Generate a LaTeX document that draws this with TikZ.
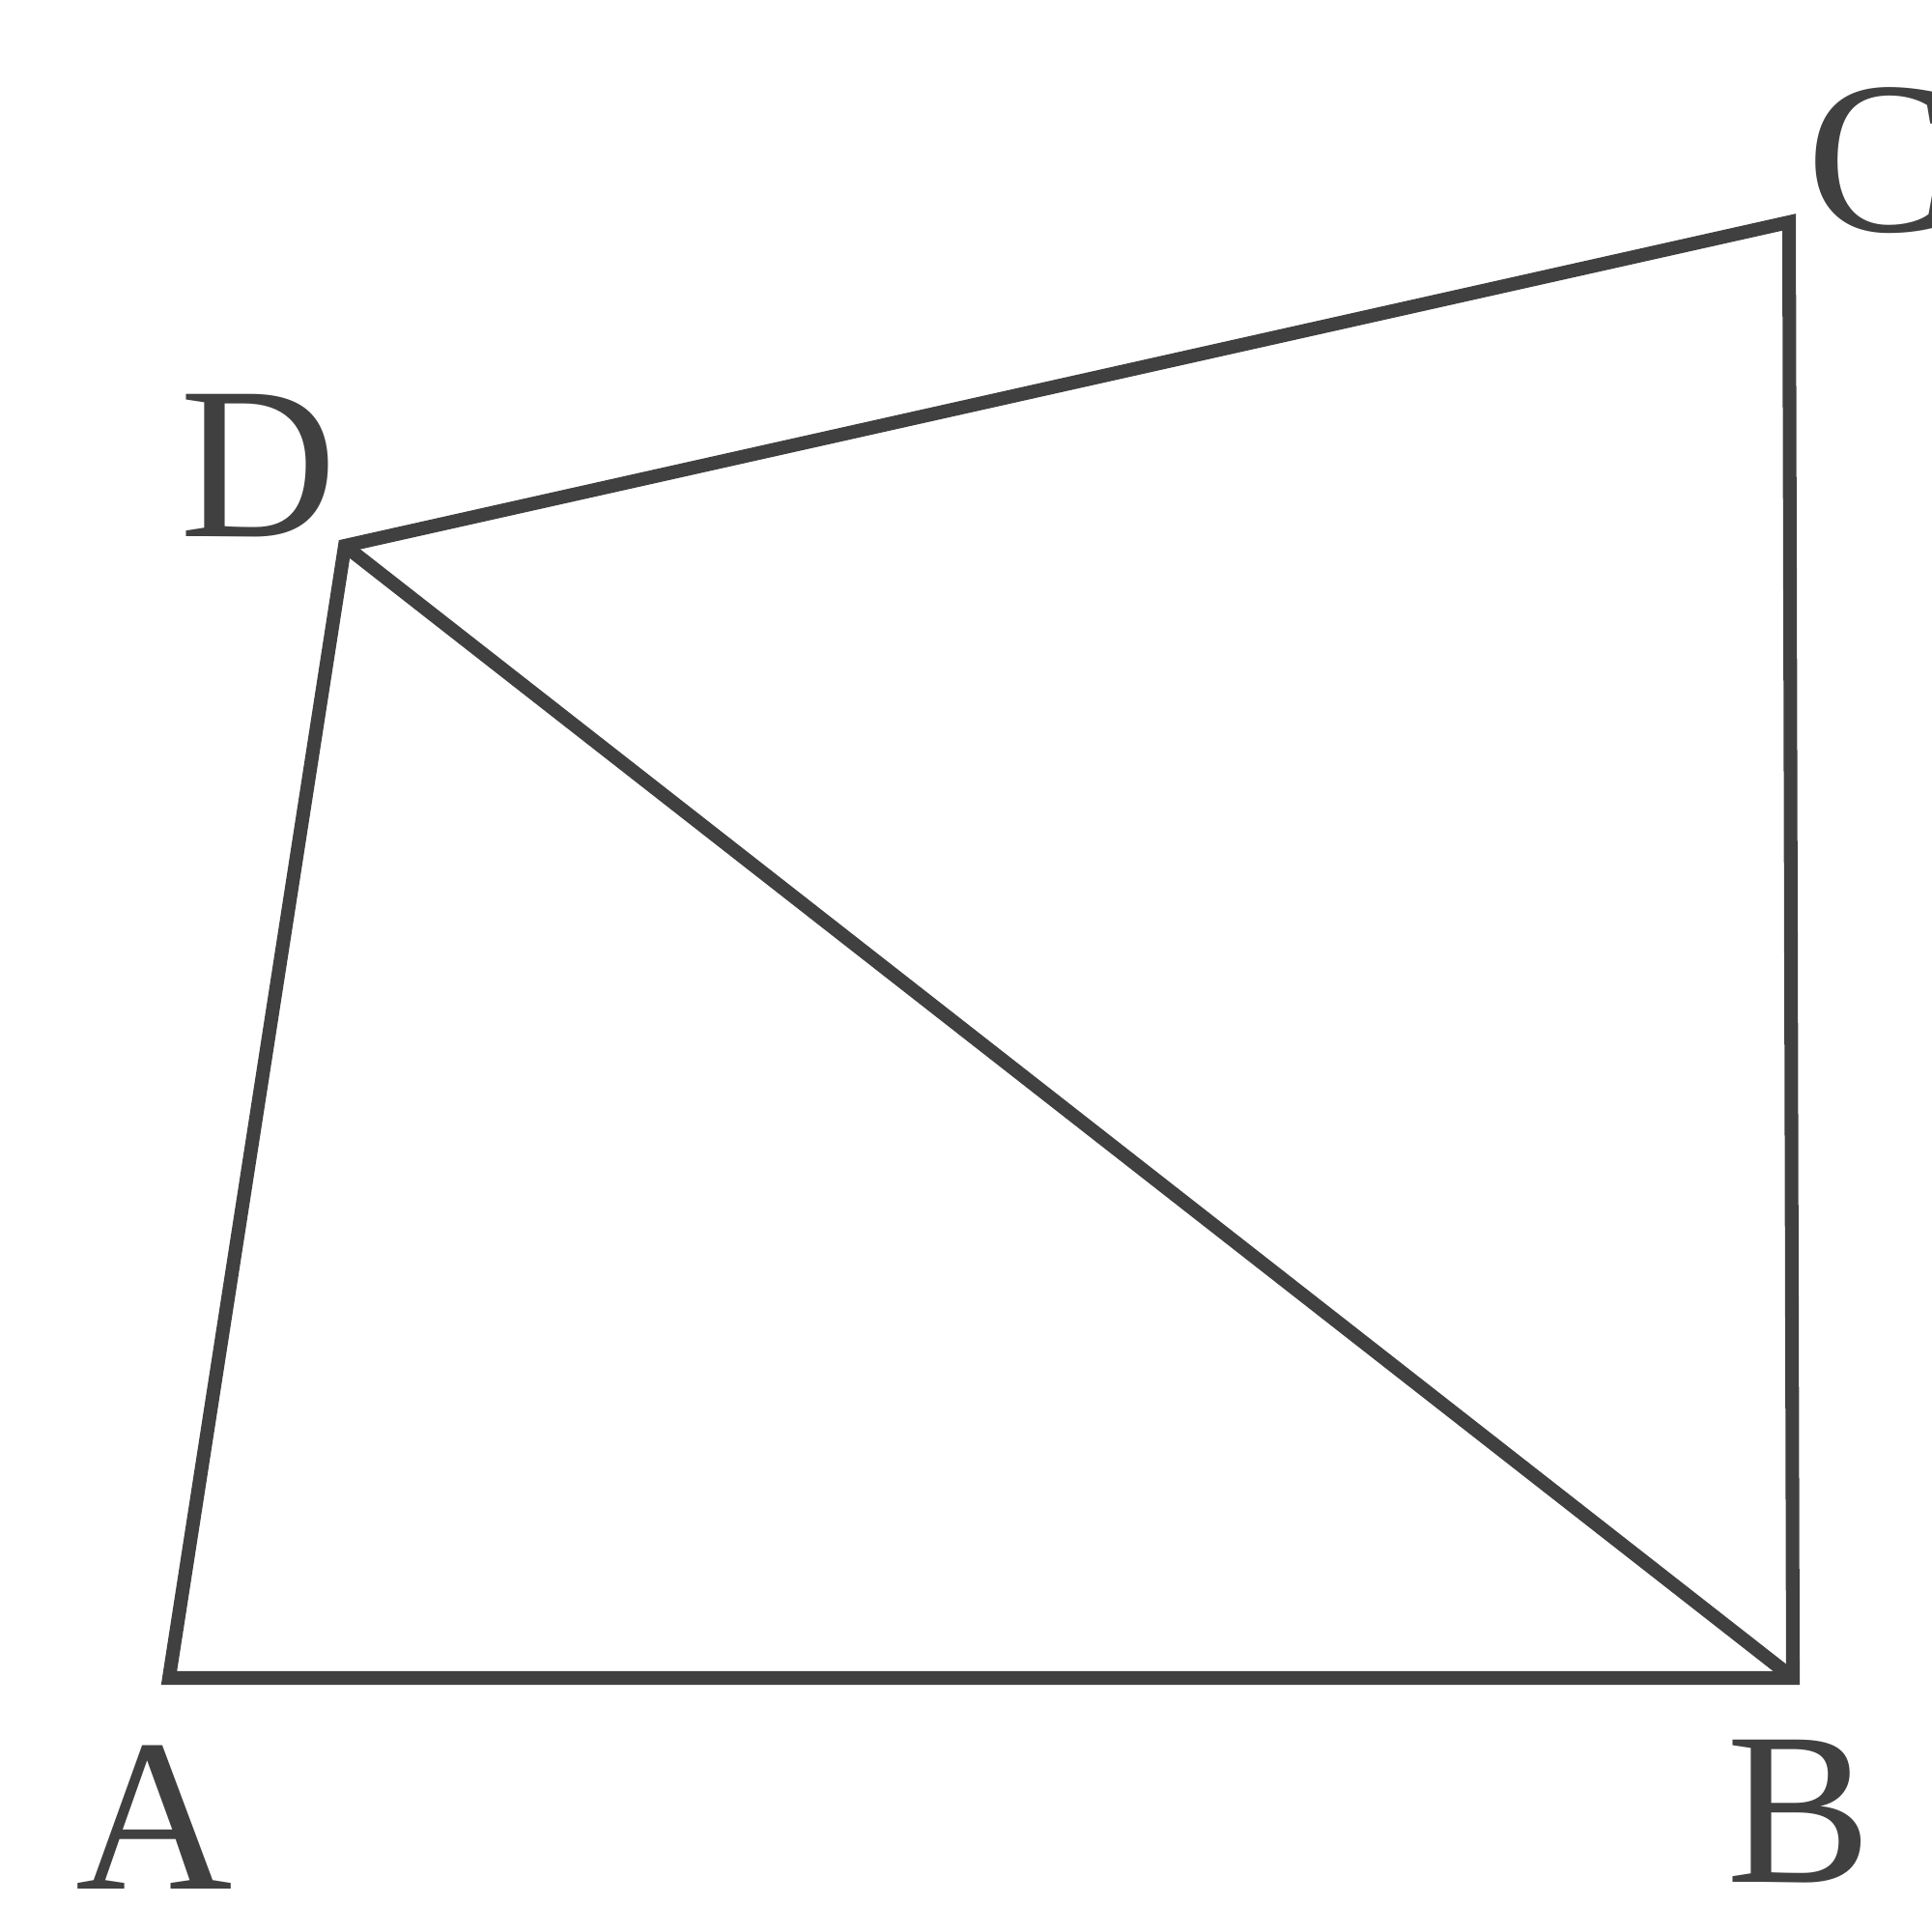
\documentclass[tikz,border=0pt]{standalone}
\usepackage{fontspec}
\setmainfont{Liberation Serif}
\begin{document}
\begin{tikzpicture}[
  edge/.style={draw=black!75, line width=4pt, line join=miter},
  lab/.style={text=black!75, font=\fontsize{64}{64}\selectfont, inner sep=0pt}
]
\useasboundingbox (0,0) rectangle (20,19.71);
\coordinate (A) at (1.75,2.34);
\coordinate (B) at (18.56,2.34);
\coordinate (C) at (18.52,17.41);
\coordinate (D) at (3.57,14.06);
\draw[edge] (A) -- (B) -- (C) -- (D) -- cycle;
\draw[edge] (D) -- (B);
\node[lab] (lA) at (1.60,0.90) {A};
\node[lab] (lB) at (18.62,0.96) {B};
\node[lab] (lC) at (19.45,18.05) {C};
\node[lab] (lD) at (2.68,14.89) {D};
\end{tikzpicture}
\end{document}
